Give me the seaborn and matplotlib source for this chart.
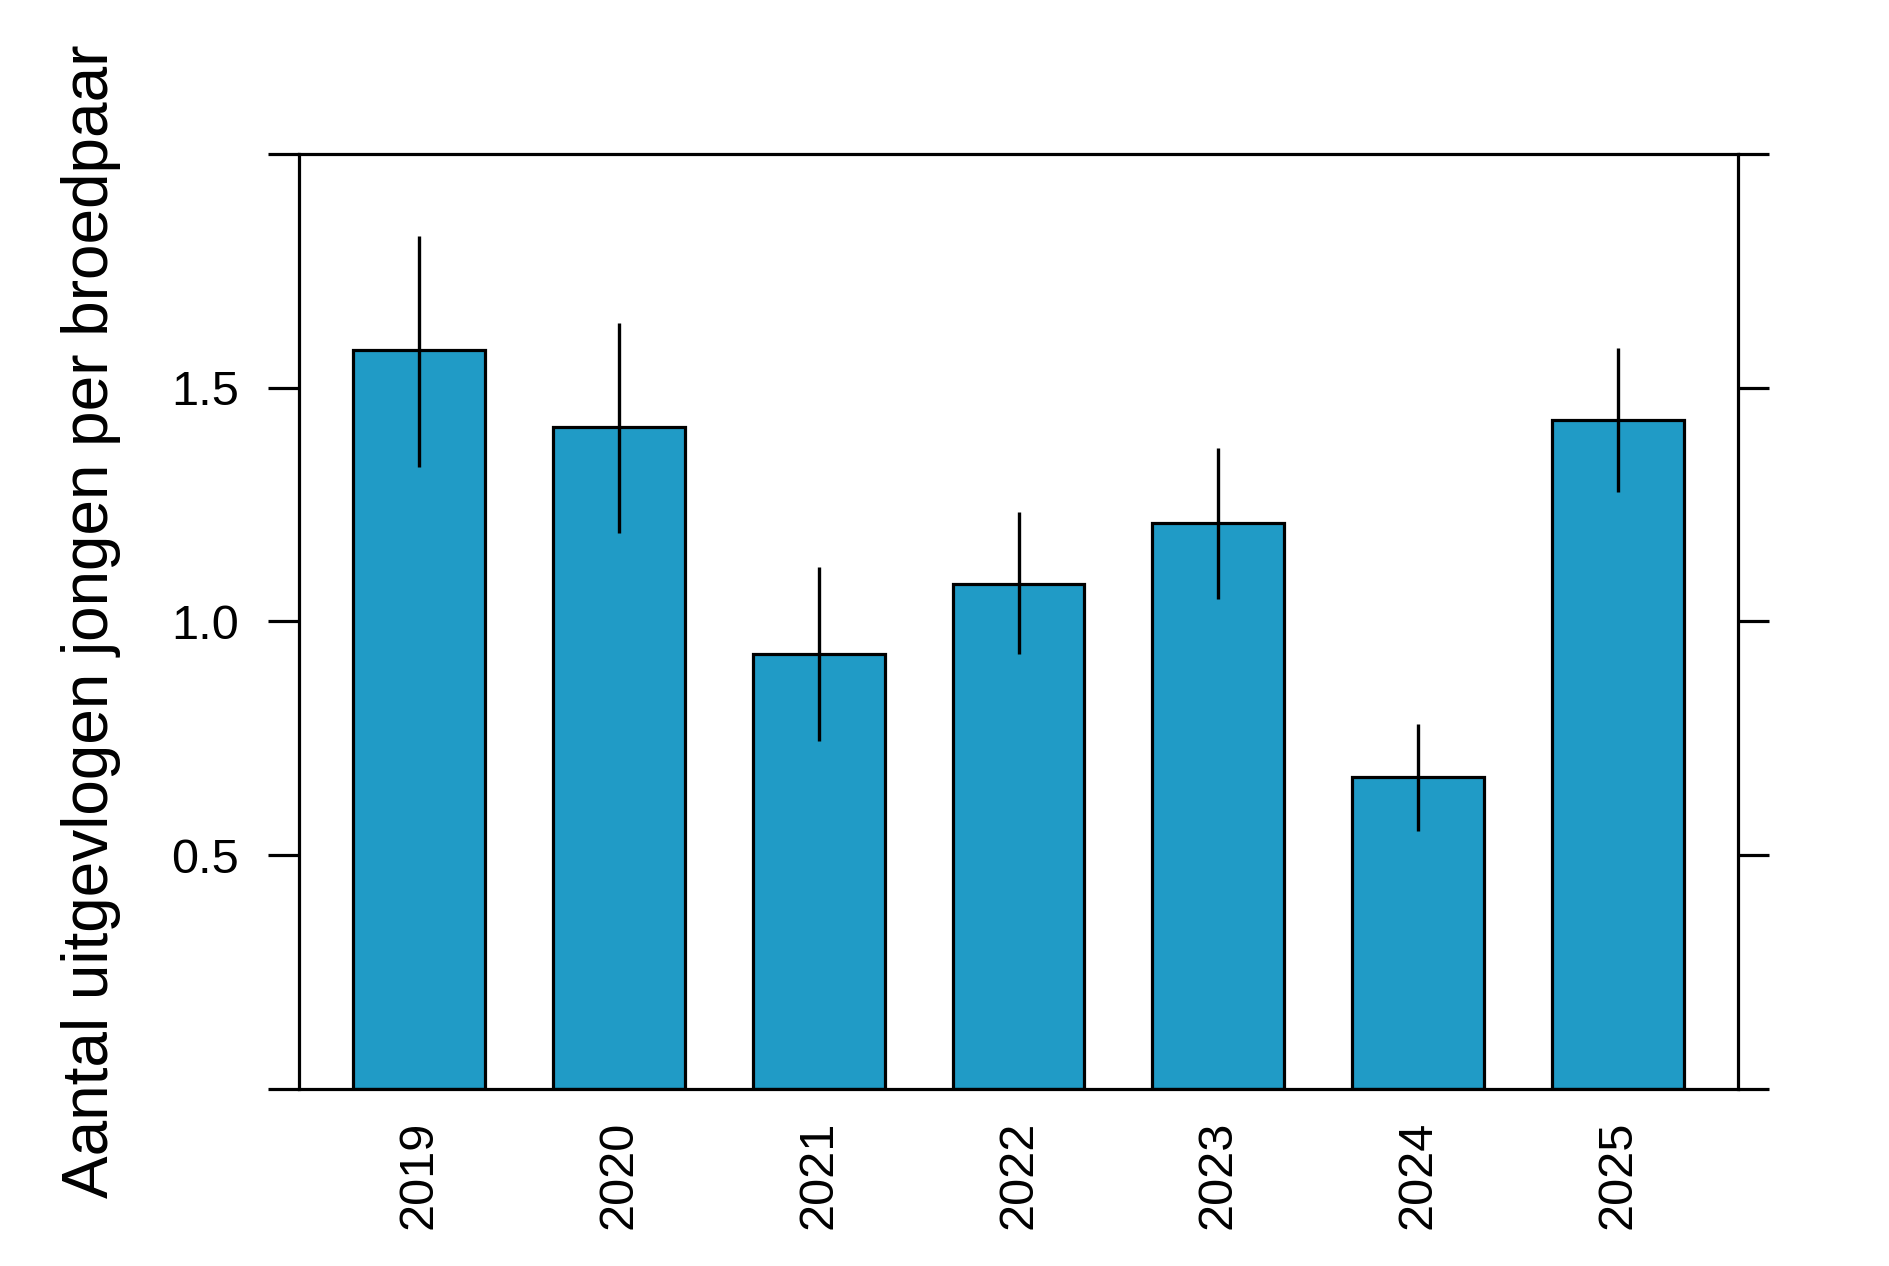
import matplotlib
matplotlib.use("Agg")
import matplotlib.pyplot as plt
import seaborn as sns
import pandas as pd

# Data
years = ["2019", "2020", "2021", "2022", "2023", "2024", "2025"]
mean_young = [1.58, 1.415, 0.93, 1.08, 1.21, 0.667, 1.43]
err_low = [1.33, 1.19, 0.745, 0.93, 1.048, 0.552, 1.278]
err_high = [1.825, 1.638, 1.117, 1.235, 1.372, 0.78, 1.585]

y_ticks = [0, 0.5, 1.0, 1.5, 2.0]
y_tick_labels = ["", "0.5", "1.0", "1.5", ""]

sns.set_theme(style="ticks")
plt.rcParams['font.family'] = ['Liberation Sans', 'DejaVu Sans']
plt.rcParams['text.color'] = 'black'
plt.rcParams['axes.labelcolor'] = 'black'

df = pd.DataFrame({"Jaar": years, "Jongen": mean_young})

fig = plt.figure(figsize=(18.9, 12.66), dpi=100)
ax = fig.add_axes([0.1582, 0.1398, 0.7614, 0.7386])

sns.barplot(data=df, x="Jaar", y="Jongen", color="#209BC6", saturation=1,
            edgecolor="black", linewidth=2.3, width=0.66, errorbar=None, ax=ax)

# error bars without caps, drawn through the bars
ax.vlines(range(len(years)), err_low, err_high, color="black", linewidth=2.4, zorder=5)

ax.set_xlim(-0.6, 6.6)
ax.set_ylim(0, 2.0)
ax.set_yticks(y_ticks)
ax.set_yticklabels(y_tick_labels)
ax.set_xticks(range(len(years)))
ax.set_xticklabels(years, rotation=90)

for side in ["left", "right", "top", "bottom"]:
    ax.spines[side].set_visible(True)
    ax.spines[side].set_linewidth(2.3)
    ax.spines[side].set_color("black")

ax.tick_params(axis="y", which="both", direction="out", length=22, width=2.3,
               left=True, right=True, labelleft=True, labelright=False,
               labelsize=35, pad=21, colors="black")
ax.tick_params(axis="x", length=0, labelsize=35, pad=23, colors="black")

ax.set_xlabel("")
ax.set_ylabel("Aantal uitgevlogen jongen per broedpaar", fontsize=46, color="black")
ax.yaxis.set_label_coords(-0.124, 0.5)

fig.savefig("out.png", dpi=100)
